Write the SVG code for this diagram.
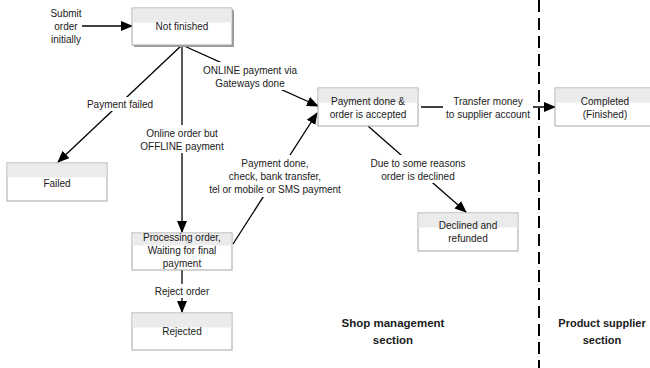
<svg xmlns="http://www.w3.org/2000/svg" width="650" height="368" viewBox="0 0 650 368">
<style>
  text { font-family: "Liberation Sans", Arial, sans-serif; font-size: 10px; fill: #1a1a1a; text-anchor: middle; }
  .box { fill: #ffffff; stroke: #a6a6a6; stroke-width: 1; }
  .band { fill: #ebebeb; }
  .edge { stroke: #000; stroke-width: 1.3; fill: none; }
  .arr { marker-end: url(#ah); }
  .lblbg { fill: #ffffff; }
  .sec { font-weight: bold; font-size: 11.5px; }
  .sec2 { font-weight: bold; font-size: 11px; }
</style>
<defs>
  <marker id="ah" markerUnits="userSpaceOnUse" markerWidth="12" markerHeight="10" viewBox="0 0 12 10" refX="11" refY="5" orient="auto">
    <path d="M0,0 L12,5 L0,10 Z" fill="#000"/>
  </marker>
</defs>

<line x1="539" y1="0" x2="539" y2="368" stroke="#000" stroke-width="2" stroke-dasharray="12 6"/>

<g id="connectors">
  <line class="edge arr" x1="82" y1="26" x2="132" y2="26"/>
  <line class="edge arr" x1="182" y1="45" x2="58" y2="162"/>
  <line class="edge arr" x1="182" y1="45" x2="182" y2="232"/>
  <line class="edge arr" x1="182" y1="45" x2="318" y2="106"/>
  <line class="edge arr" x1="233" y1="244" x2="317" y2="113"/>
  <line class="edge arr" x1="368" y1="126" x2="466" y2="212"/>
  <line class="edge arr" x1="421" y1="107" x2="555" y2="107"/>
  <line class="edge arr" x1="182" y1="270" x2="182" y2="312"/>

  <rect class="lblbg" x="85" y="97" width="70" height="14"/>
  <text x="120" y="107.5">Payment failed</text>

  <rect class="lblbg" x="139" y="125" width="86" height="28"/>
  <text x="182" y="136.5">Online order but</text>
  <text x="182" y="149.5">OFFLINE payment</text>

  <rect class="lblbg" x="202" y="62" width="96" height="28"/>
  <text x="250" y="73.5">ONLINE payment via</text>
  <text x="250" y="86.5">Gateways done</text>

  <rect class="lblbg" x="206" y="155" width="138" height="42"/>
  <text x="275" y="166.5">Payment done,</text>
  <text x="275" y="179.5">check, bank transfer,</text>
  <text x="275" y="192.5">tel or mobile or SMS payment</text>

  <rect class="lblbg" x="368" y="155" width="100" height="28"/>
  <text x="418" y="166.5">Due to some reasons</text>
  <text x="418" y="179.5">order is declined</text>

  <rect class="lblbg" x="443" y="93" width="90" height="28"/>
  <text x="488" y="104.5">Transfer money</text>
  <text x="488" y="117.5">to supplier account</text>

  <rect class="lblbg" x="150" y="284" width="64" height="14"/>
  <text x="182" y="294.5">Reject order</text>
</g>

<g id="start-label">
  <text x="66" y="16.5">Submit</text>
  <text x="66" y="29.5">order</text>
  <text x="66" y="42.5">initially</text>
</g>

<g id="not-finished">
  <rect x="134" y="10" width="100" height="37" fill="#9a9a9a"/>
  <rect class="box" x="132" y="8" width="100" height="37"/>
  <rect class="band" x="132.5" y="8.5" width="99" height="14"/>
  <text x="182" y="29.5">Not finished</text>
</g>

<g id="failed">
  <rect class="box" x="7" y="163" width="100" height="38"/>
  <rect class="band" x="7.5" y="163.5" width="99" height="14"/>
  <text x="57" y="186.5">Failed</text>
</g>

<g id="payment-done">
  <rect class="box" x="318" y="88" width="100" height="38"/>
  <rect class="band" x="318.5" y="88.5" width="99" height="14"/>
  <text x="368" y="104.5">Payment done &amp;</text>
  <text x="368" y="117.5">order is accepted</text>
</g>

<g id="completed">
  <rect class="box" x="555" y="88" width="100" height="38"/>
  <rect class="band" x="555.5" y="88.5" width="99" height="14"/>
  <text x="605" y="104.5">Completed</text>
  <text x="605" y="117.5">(Finished)</text>
</g>

<g id="processing">
  <rect class="box" x="132" y="233" width="100" height="37"/>
  <rect class="band" x="132.5" y="233.5" width="99" height="12"/>
  <text x="182" y="241">Processing order,</text>
  <text x="182" y="254">Waiting for final</text>
  <text x="182" y="267">payment</text>
</g>

<g id="declined">
  <rect class="box" x="418" y="213" width="100" height="38"/>
  <rect class="band" x="418.5" y="213.5" width="99" height="14"/>
  <text x="468" y="228.5">Declined and</text>
  <text x="468" y="241.5">refunded</text>
</g>

<g id="rejected">
  <rect class="box" x="132" y="313" width="100" height="37"/>
  <rect class="band" x="132.5" y="313.5" width="99" height="14"/>
  <text x="182" y="334.5">Rejected</text>
</g>

<g id="sections">
  <text class="sec" x="393" y="327">Shop management</text>
  <text class="sec" x="393" y="344">section</text>
  <text class="sec2" x="602" y="327">Product supplier</text>
  <text class="sec2" x="602" y="344">section</text>
</g>
</svg>
